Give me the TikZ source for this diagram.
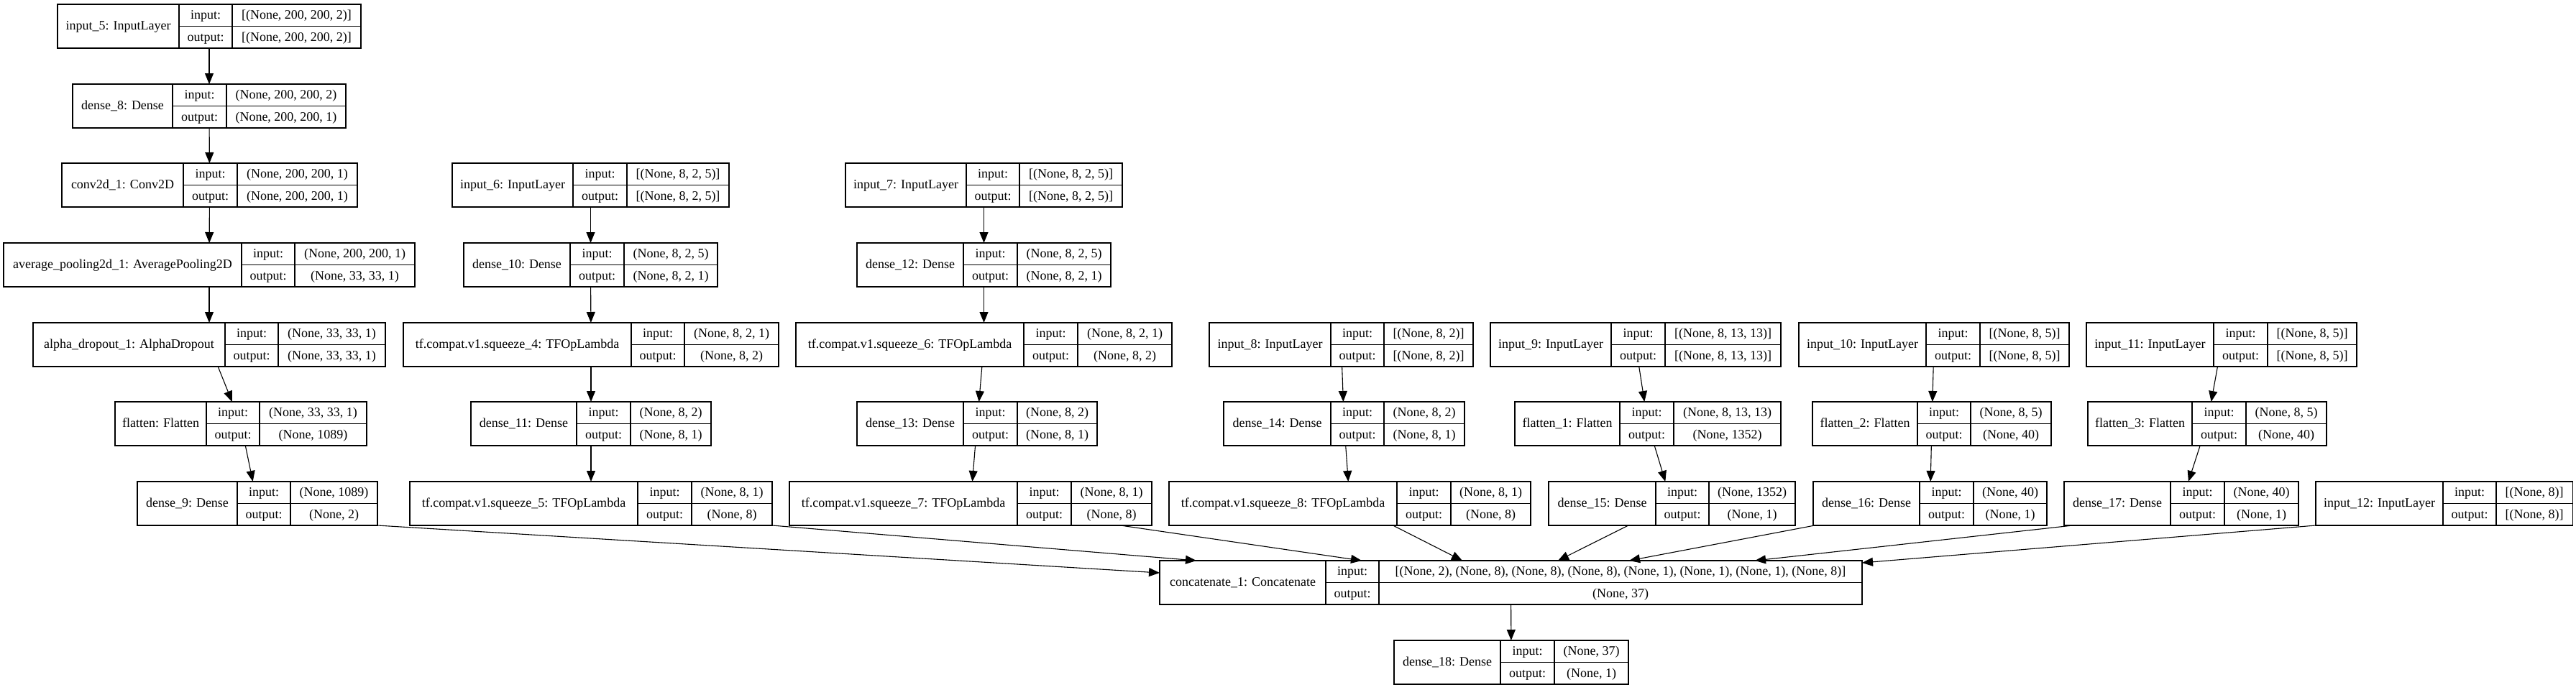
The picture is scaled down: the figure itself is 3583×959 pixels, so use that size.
\documentclass[tikz,border=0pt]{standalone}
\usepackage{fontspec}
\setmainfont{Liberation Serif}
\usetikzlibrary{arrows.meta,fit}
\definecolor{ink}{HTML}{000000}
\tikzset{
  lyr/.style  = {draw=ink, line width=1.1pt, inner sep=0pt, outer sep=0pt},
  rule/.style = {draw=ink, line width=1.1pt},
  txt/.style  = {anchor=base, inner sep=0pt, text=ink,
                 font=\fontsize{18}{20}\selectfont},
  flow/.style = {-{Triangle[length=15pt, width=12pt]}, draw=ink, line width=1.1pt},
}
% one keras record: name, left, div1, div2, right, top, label, input, output
\newcommand{\klayer}[9]{%
  \node[lyr, fit={(#2,#6) (#5,#6+61)}] (#1) {};
  \draw[rule] (#3,#6) -- (#3,#6+61) (#4,#6) -- (#4,#6+61)
              (#3,#6+30.5) -- (#5,#6+30.5);
  \node[txt] (#1-name) at ({(#2+#3)/2},#6+35.7) {#7};
  \node[txt] (#1-ik) at ({(#3+#4)/2},#6+20.7) {input:};
  \node[txt] (#1-ok) at ({(#3+#4)/2},#6+51.2) {output:};
  \node[txt] (#1-iv) at ({(#4+#5)/2},#6+20.7) {#8};
  \node[txt] (#1-ov) at ({(#4+#5)/2},#6+51.2) {#9};
}

\begin{document}
\begin{tikzpicture}[x=1pt, y=-1pt]
  \useasboundingbox (0,0) rectangle (3583,959);

  % image branch
  \klayer{in5}{80}{249}{323}{502}{6}{input\_5: InputLayer}{[(None, 200, 200, 2)]}{[(None, 200, 200, 2)]}
  \klayer{d8}{101}{240}{315}{481}{117}{dense\_8: Dense}{(None, 200, 200, 2)}{(None, 200, 200, 1)}
  \klayer{conv}{86}{255}{330}{497}{227}{conv2d\_1: Conv2D}{(None, 200, 200, 1)}{(None, 200, 200, 1)}
  \klayer{pool}{5}{336}{410}{577}{338}{average\_pooling2d\_1: AveragePooling2D}{(None, 200, 200, 1)}{(None, 33, 33, 1)}
  \klayer{drop}{46}{313}{387}{536}{449}{alpha\_dropout\_1: AlphaDropout}{(None, 33, 33, 1)}{(None, 33, 33, 1)}
  \klayer{flat}{160}{287}{361}{510}{559}{flatten: Flatten}{(None, 33, 33, 1)}{(None, 1089)}
  \klayer{d9}{191}{330}{404}{525}{670}{dense\_9: Dense}{(None, 1089)}{(None, 2)}

  % input_6 branch
  \klayer{in6}{629}{797}{872}{1014}{227}{input\_6: InputLayer}{[(None, 8, 2, 5)]}{[(None, 8, 2, 5)]}
  \klayer{d10}{645}{793}{868}{998}{338}{dense\_10: Dense}{(None, 8, 2, 5)}{(None, 8, 2, 1)}
  \klayer{sq4}{561}{878}{952}{1083}{449}{tf.compat.v1.squeeze\_4: TFOpLambda}{(None, 8, 2, 1)}{(None, 8, 2)}
  \klayer{d11}{655}{802}{877}{989}{559}{dense\_11: Dense}{(None, 8, 2)}{(None, 8, 1)}
  \klayer{sq5}{570}{887}{962}{1074}{670}{tf.compat.v1.squeeze\_5: TFOpLambda}{(None, 8, 1)}{(None, 8)}

  % input_7 branch
  \klayer{in7}{1176}{1344}{1418}{1561}{227}{input\_7: InputLayer}{[(None, 8, 2, 5)]}{[(None, 8, 2, 5)]}
  \klayer{d12}{1192}{1340}{1415}{1545}{338}{dense\_12: Dense}{(None, 8, 2, 5)}{(None, 8, 2, 1)}
  \klayer{sq6}{1107}{1424}{1499}{1630}{449}{tf.compat.v1.squeeze\_6: TFOpLambda}{(None, 8, 2, 1)}{(None, 8, 2)}
  \klayer{d13}{1192}{1340}{1415}{1526}{559}{dense\_13: Dense}{(None, 8, 2)}{(None, 8, 1)}
  \klayer{sq7}{1098}{1415}{1490}{1602}{670}{tf.compat.v1.squeeze\_7: TFOpLambda}{(None, 8, 1)}{(None, 8)}

  % input_8 branch
  \klayer{in8}{1682}{1851}{1925}{2049}{449}{input\_8: InputLayer}{[(None, 8, 2)]}{[(None, 8, 2)]}
  \klayer{d14}{1702}{1851}{1925}{2037}{559}{dense\_14: Dense}{(None, 8, 2)}{(None, 8, 1)}
  \klayer{sq8}{1626}{1943}{2018}{2129}{670}{tf.compat.v1.squeeze\_8: TFOpLambda}{(None, 8, 1)}{(None, 8)}

  % flatten branches
  \klayer{in9}{2073}{2241}{2316}{2477}{449}{input\_9: InputLayer}{[(None, 8, 13, 13)]}{[(None, 8, 13, 13)]}
  \klayer{flat1}{2107}{2253}{2328}{2477}{559}{flatten\_1: Flatten}{(None, 8, 13, 13)}{(None, 1352)}
  \klayer{d15}{2154}{2303}{2377}{2497}{670}{dense\_15: Dense}{(None, 1352)}{(None, 1)}
  \klayer{in10}{2502}{2679}{2754}{2878}{449}{input\_10: InputLayer}{[(None, 8, 5)]}{[(None, 8, 5)]}
  \klayer{flat2}{2521}{2667}{2741}{2853}{559}{flatten\_2: Flatten}{(None, 8, 5)}{(None, 40)}
  \klayer{d16}{2522}{2670}{2745}{2847}{670}{dense\_16: Dense}{(None, 40)}{(None, 1)}
  \klayer{in11}{2902}{3079}{3154}{3278}{449}{input\_11: InputLayer}{[(None, 8, 5)]}{[(None, 8, 5)]}
  \klayer{flat3}{2904}{3049}{3124}{3236}{559}{flatten\_3: Flatten}{(None, 8, 5)}{(None, 40)}
  \klayer{d17}{2871}{3019}{3094}{3197}{670}{dense\_17: Dense}{(None, 40)}{(None, 1)}
  \klayer{in12}{3221}{3398}{3472}{3578}{670}{input\_12: InputLayer}{[(None, 8)]}{[(None, 8)]}

  % merge and head
  \klayer{concat}{1613}{1844}{1918}{2590}{780}{concatenate\_1: Concatenate}{[(None, 2), (None, 8), (None, 8), (None, 8), (None, 1), (None, 1), (None, 1), (None, 8)]}{(None, 37)}
  \klayer{d18}{1939}{2087}{2162}{2265}{891}{dense\_18: Dense}{(None, 37)}{(None, 1)}

  % chains
  \draw[flow] (in5) -- (d8);
  \draw[flow] (d8) -- (conv);
  \draw[flow] (conv) -- (pool);
  \draw[flow] (pool) -- (drop);
  \draw[flow] (drop) -- (flat);
  \draw[flow] (flat) -- (d9);
  \draw[flow] (in6) -- (d10);
  \draw[flow] (d10) -- (sq4);
  \draw[flow] (sq4) -- (d11);
  \draw[flow] (d11) -- (sq5);
  \draw[flow] (in7) -- (d12);
  \draw[flow] (d12) -- (sq6);
  \draw[flow] (sq6) -- (d13);
  \draw[flow] (d13) -- (sq7);
  \draw[flow] (in8) -- (d14);
  \draw[flow] (d14) -- (sq8);
  \draw[flow] (in9) -- (flat1);
  \draw[flow] (flat1) -- (d15);
  \draw[flow] (in10) -- (flat2);
  \draw[flow] (flat2) -- (d16);
  \draw[flow] (in11) -- (flat3);
  \draw[flow] (flat3) -- (d17);

  % ports on the concatenate box
  \coordinate (p1) at ([yshift=-17pt]concat.north west);
  \coordinate (p2) at ([xshift=51pt]concat.north west);
  \coordinate (p3) at ([xshift=281pt]concat.north west);
  \coordinate (p4) at ([xshift=421pt]concat.north west);
  \coordinate (p5) at ([xshift=554pt]concat.north west);
  \coordinate (p6) at ([xshift=653pt]concat.north west);
  \coordinate (p7) at ([xshift=828pt]concat.north west);
  \coordinate (p8) at ([yshift=-3pt]concat.north east);

  \draw[flow] (d9.south east) -- (p1);
  \draw[flow] (sq5.south east) -- (p2);
  \draw[flow] (sq7) -- (p3);
  \draw[flow] (sq8) -- (p4);
  \draw[flow] (d15) -- (p5);
  \draw[flow] (d16) -- (p6);
  \draw[flow] ([xshift=12pt]d17.south west) -- (p7);
  \draw[flow] (in12.south west) -- (p8);
  \draw[flow] (concat) -- (d18);
\end{tikzpicture}
\end{document}
